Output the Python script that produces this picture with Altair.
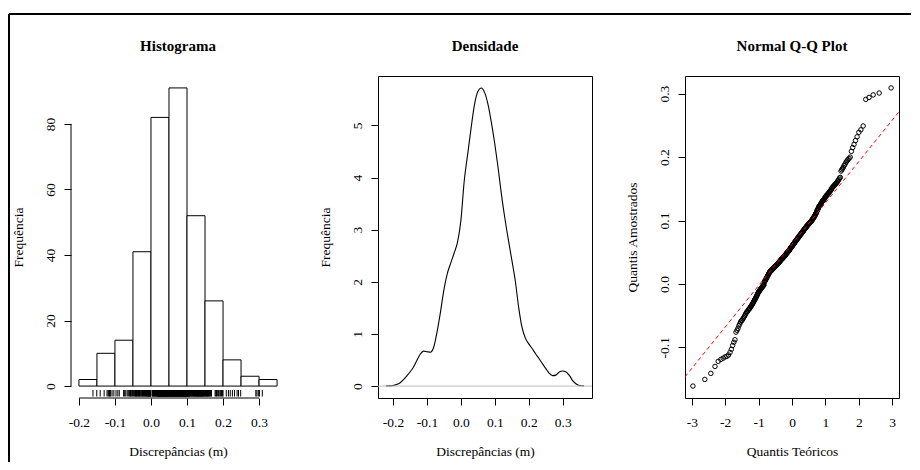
import altair as alt
import pandas as pd
from statistics import NormalDist
import numpy as np

FONT = "Liberation Serif"
W, H = 214, 322

# ---------------- data ----------------
hist_breaks = [-0.20, -0.15, -0.10, -0.05, 0.00, 0.05, 0.10, 0.15, 0.20, 0.25, 0.30, 0.35]
hist_counts = [2, 10, 14, 41, 82, 91, 52, 26, 8, 3, 2]

# sorted sample values (grouped by histogram class)
bin01 = [-0.161, -0.1505]
bin02 = [-0.141, -0.130, -0.122, -0.119, -0.117, -0.115, -0.114, -0.112, -0.108, -0.103]
bin03 = [-0.097, -0.092, -0.088, -0.076, -0.073, -0.070, -0.066, -0.063, -0.060, -0.058,
         -0.057, -0.055, -0.053, -0.051]
bin04 = [-0.049, -0.047, -0.045, -0.044, -0.043, -0.041, -0.040, -0.039, -0.038, -0.036,
         -0.035, -0.034, -0.032, -0.031, -0.030, -0.028, -0.027, -0.025, -0.024, -0.023,
         -0.021, -0.020, -0.018, -0.017, -0.015, -0.014, -0.013, -0.012, -0.011, -0.010,
         -0.009, -0.008, -0.007, -0.006, -0.006, -0.005, -0.004, -0.003, -0.003, -0.002,
         -0.001]
bin05 = [0.003, 0.004, 0.005, 0.006, 0.007, 0.008, 0.009, 0.010, 0.011, 0.012, 0.013, 0.014,
         0.015, 0.016, 0.017, 0.018,
         0.019, 0.019, 0.020, 0.020, 0.021, 0.021, 0.022, 0.022, 0.023, 0.023, 0.024, 0.024,
         0.025, 0.025, 0.026, 0.026, 0.027, 0.027, 0.028, 0.028, 0.029, 0.029, 0.030, 0.030,
         0.030, 0.031, 0.031, 0.032, 0.032, 0.033, 0.033, 0.034, 0.034, 0.035, 0.035, 0.036,
         0.036, 0.037, 0.037, 0.038, 0.038, 0.039, 0.039, 0.040, 0.040, 0.040, 0.041, 0.041,
         0.042, 0.042, 0.043, 0.043, 0.044, 0.044, 0.045, 0.045, 0.046, 0.046, 0.047, 0.047,
         0.048, 0.048, 0.049, 0.049, 0.050, 0.050]
bin06 = [0.051, 0.051, 0.052, 0.052, 0.053, 0.053, 0.054, 0.054, 0.055, 0.056, 0.056,
         0.057, 0.057, 0.058, 0.058, 0.059, 0.059, 0.060, 0.061, 0.061, 0.062, 0.062,
         0.063, 0.063, 0.064, 0.064, 0.065, 0.066, 0.066, 0.067, 0.067, 0.068, 0.068,
         0.069, 0.069, 0.070, 0.071, 0.071, 0.072, 0.072, 0.073, 0.073, 0.074, 0.074,
         0.075, 0.076, 0.076, 0.077, 0.077, 0.078, 0.078, 0.079, 0.079, 0.080, 0.081,
         0.081, 0.082, 0.082, 0.083, 0.083, 0.084, 0.084, 0.085, 0.086, 0.086, 0.087,
         0.087, 0.088, 0.088, 0.089, 0.089, 0.090, 0.091, 0.091, 0.092, 0.092, 0.093,
         0.093, 0.094, 0.094, 0.095, 0.095, 0.096, 0.096, 0.097, 0.097, 0.098, 0.098,
         0.099, 0.099, 0.100]
bin07 = [0.101, 0.102, 0.102, 0.103, 0.104, 0.105, 0.105, 0.106, 0.107, 0.108,
         0.109, 0.110, 0.111, 0.112, 0.113, 0.115, 0.116, 0.117, 0.118, 0.119, 0.121,
         0.122, 0.122, 0.123, 0.124, 0.125, 0.126, 0.127, 0.128, 0.129,
         0.130, 0.131, 0.131, 0.132, 0.133, 0.134, 0.135, 0.136, 0.137,
         0.138, 0.139, 0.140, 0.140, 0.141, 0.142, 0.143,
         0.144, 0.145, 0.146, 0.147, 0.148, 0.149]
bin08 = [0.151, 0.152, 0.153, 0.154, 0.155, 0.156, 0.157, 0.158, 0.159, 0.160, 0.162, 0.163,
         0.165, 0.167, 0.168, 0.178, 0.180, 0.182, 0.184, 0.187, 0.189, 0.192, 0.194, 0.196,
         0.198, 0.200]
bin09 = [0.209, 0.215, 0.220, 0.226, 0.232, 0.239, 0.243, 0.249]
bin10 = [0.291, 0.294, 0.298]
bin11 = [0.301, 0.309]

# kernel density curve
dens_x = [-0.221, -0.21, -0.20, -0.19, -0.18, -0.17, -0.16, -0.15, -0.14, -0.13, -0.12, -0.11,
          -0.10, -0.09, -0.08, -0.07, -0.06, -0.05, -0.04, -0.03, -0.02, -0.01, 0.00, 0.01,
          0.02, 0.03, 0.04, 0.05, 0.06, 0.07, 0.08, 0.09, 0.10, 0.11, 0.12, 0.13, 0.14, 0.15,
          0.16, 0.17, 0.18, 0.19, 0.20, 0.21, 0.22, 0.23, 0.24, 0.25, 0.26, 0.27, 0.28, 0.29,
          0.30, 0.31, 0.32, 0.33, 0.34, 0.35, 0.363]
dens_y = [0.0, 0.003, 0.01, 0.03, 0.06, 0.12, 0.19, 0.27, 0.36, 0.49, 0.61, 0.67,
          0.66, 0.65, 0.75, 1.05, 1.43, 1.85, 2.16, 2.36, 2.55, 2.76, 3.18, 3.95,
          4.45, 4.95, 5.40, 5.65, 5.72, 5.63, 5.40, 5.05, 4.64, 4.17, 3.65, 3.20, 2.80, 2.42,
          2.03, 1.52, 1.13, 0.92, 0.81, 0.72, 0.62, 0.53, 0.43, 0.34, 0.25, 0.20, 0.21, 0.27,
          0.29, 0.27, 0.20, 0.10, 0.04, 0.01, 0.0]

hist_ticks = [-0.2, -0.1, 0.0, 0.1, 0.2, 0.3]
freq_ticks = [0, 20, 40, 60, 80]
dens_ticks = [0, 1, 2, 3, 4, 5]
qq_xticks = [-3.0, -2.0, -1.0, 0.0, 1.0, 2.0, 3.0]
qq_yticks = [-0.1, 0.0, 0.1, 0.2, 0.3]
panel_titles = ["Histograma", "Densidade", "Normal Q-Q Plot"]

discrepancias = bin01 + bin02 + bin03 + bin04 + bin05 + bin06 + bin07 + bin08 + bin09 + bin10 + bin11
for lo, hi, c in zip(hist_breaks[:-1], hist_breaks[1:], hist_counts):
    k = sum(1 for v in discrepancias if lo < v <= hi)
    assert k == c, (lo, hi, k, c)


def rdom(lo, hi):
    d = (hi - lo) * 0.04
    return [lo - d, hi + d]


def fix(fmt):
    return "replace(format(datum.value, '" + fmt + "'), '\u2212', '-')"


def xaxis(vals, fmt, title):
    return alt.Axis(values=vals, labelExpr=fix(fmt), title=title, titleX=W / 2, titleY=53,
                    titleBaseline="middle", titleAlign="center", labelBaseline="middle",
                    labelAlign="center", labelAngle=0, labelPadding=17,
                    labelOverlap=False, labelFlush=False)


def yaxis(vals, fmt, title):
    return alt.Axis(values=vals, labelExpr=fix(fmt), title=title, titleX=-53, titleY=H / 2,
                    titleBaseline="middle", titleAlign="center", titleAngle=270,
                    labelAngle=270, labelAlign="center", labelBaseline="middle", labelPadding=14,
                    labelOverlap=False, labelFlush=False)


def ptitle(t):
    return alt.Chart(pd.DataFrame({"t": [t]})).mark_text(
        font=FONT, fontSize=15, fontWeight="bold", color="black",
        align="center", baseline="middle").encode(
        text="t:N", x=alt.value(W / 2), y=alt.value(-30))


# ---------------- panel 1: histogram ----------------
hist_df = pd.DataFrame({"x0": hist_breaks[:-1], "x1": hist_breaks[1:],
                        "n": hist_counts, "z": [0] * len(hist_counts)})
xs1 = alt.Scale(domain=rdom(hist_breaks[0], hist_breaks[-1]), nice=False, zero=False)
ys1 = alt.Scale(domain=rdom(0, max(hist_counts)), nice=False, zero=False)
ax1x = xaxis(hist_ticks, ".1f", "Discrepâncias (m)")
ax1y = yaxis(freq_ticks, "d", "Frequência")

bars = alt.Chart(hist_df).mark_rect(fill="white", stroke="black", strokeWidth=1).encode(
    x=alt.X("x0:Q", scale=xs1, axis=ax1x),
    x2="x1:Q",
    y=alt.Y("n:Q", scale=ys1, axis=ax1y),
    y2="z:Q",
)
vals_df = pd.DataFrame({"v": discrepancias})
rug = alt.Chart(vals_df).mark_rule(color="black", strokeWidth=1).encode(
    x=alt.X("v:Q", scale=xs1, axis=ax1x), y=alt.value(H - 8), y2=alt.value(H - 1.5))
xline = alt.Chart(pd.DataFrame({"a": [hist_ticks[0]], "b": [hist_ticks[-1]]})).mark_rule(
    color="black", strokeWidth=1).encode(x=alt.X("a:Q", scale=xs1, axis=ax1x), x2="b:Q",
                                         y=alt.value(H))
yline = alt.Chart(pd.DataFrame({"a": [freq_ticks[0]], "b": [freq_ticks[-1]]})).mark_rule(
    color="black", strokeWidth=1).encode(y=alt.Y("a:Q", scale=ys1, axis=ax1y), y2="b:Q",
                                         x=alt.value(0))
frame_df = pd.DataFrame({"k": [0]})
border_top = alt.Chart(frame_df).mark_rule(color="black", strokeWidth=2).encode(
    x=alt.value(-62), x2=alt.value(840), y=alt.value(-62))
border_left = alt.Chart(frame_df).mark_rule(color="black", strokeWidth=2).encode(
    x=alt.value(-62), y=alt.value(-62), y2=alt.value(386))

p1 = alt.layer(bars, rug, xline, yline, border_top, border_left, ptitle(panel_titles[0])).properties(
    width=W, height=H, view=alt.ViewBackground(strokeOpacity=0))

# ---------------- panel 2: density ----------------
dens_df = pd.DataFrame({"x": dens_x, "y": dens_y})
xs2 = alt.Scale(domain=rdom(min(dens_x), max(dens_x)), nice=False, zero=False)
ys2 = alt.Scale(domain=rdom(0, max(dens_y)), nice=False, zero=False)
ax2x = xaxis(hist_ticks, ".1f", "Discrepâncias (m)")
ax2y = yaxis(dens_ticks, "d", "Frequência")
curve = alt.Chart(dens_df).mark_line(color="black", strokeWidth=1.1, interpolate="monotone").encode(
    x=alt.X("x:Q", scale=xs2, axis=ax2x),
    y=alt.Y("y:Q", scale=ys2, axis=ax2y),
)
zero = alt.Chart(pd.DataFrame({"z": [0]})).mark_rule(color="#bebebe", strokeWidth=1).encode(
    y=alt.Y("z:Q", scale=ys2, axis=ax2y), x=alt.value(0), x2=alt.value(W))
p2 = alt.layer(curve, zero, ptitle(panel_titles[1])).properties(width=W, height=H)

# ---------------- panel 3: normal Q-Q ----------------
srt = sorted(discrepancias)
n = len(srt)
nd = NormalDist()
theo = [nd.inv_cdf((i + 0.5) / n) for i in range(n)]
qq_df = pd.DataFrame({"t": theo, "s": srt})
q1, q3 = np.quantile(srt, [0.25, 0.75])
z1, z3 = nd.inv_cdf(0.25), nd.inv_cdf(0.75)
slope = (q3 - q1) / (z3 - z1)
icpt = q1 - slope * z1
xd3 = rdom(min(theo), max(theo))
yd3 = rdom(min(srt), max(srt))
line_df = pd.DataFrame({"t": xd3, "s": [icpt + slope * v for v in xd3]})
xs3 = alt.Scale(domain=xd3, nice=False, zero=False)
ys3 = alt.Scale(domain=yd3, nice=False, zero=False)
ax3x = xaxis(qq_xticks, ".0f", "Quantis Teóricos")
ax3y = yaxis(qq_yticks, ".1f", "Quantis Amostrados")
pts = alt.Chart(qq_df).mark_point(shape="circle", filled=False, color="black", size=20,
                                   strokeWidth=1, opacity=1).encode(
    x=alt.X("t:Q", scale=xs3, axis=ax3x),
    y=alt.Y("s:Q", scale=ys3, axis=ax3y),
)
qline = alt.Chart(line_df).mark_line(color="red", strokeWidth=1, strokeDash=[4, 3], clip=True).encode(
    x=alt.X("t:Q", scale=xs3, axis=ax3x), y=alt.Y("s:Q", scale=ys3, axis=ax3y))
p3 = alt.layer(pts, qline, ptitle(panel_titles[2])).properties(width=W, height=H)

chart = alt.hconcat(p1, p2, p3, spacing=93, bounds="flush").properties(
    padding={"left": 0, "top": 5, "right": 0, "bottom": 0}
).configure_axis(
    labelFont=FONT, titleFont=FONT, labelFontSize=13.5, titleFontSize=13.5,
    titleFontWeight="normal", labelColor="black", titleColor="black",
    tickColor="black", tickSize=7, tickWidth=1, domain=False, grid=False,
    labelOverlap=False, labelFlush=False,
).configure_view(stroke="black", strokeWidth=1)

chart.save("out.html", embed_options={"renderer": "svg", "actions": False})
